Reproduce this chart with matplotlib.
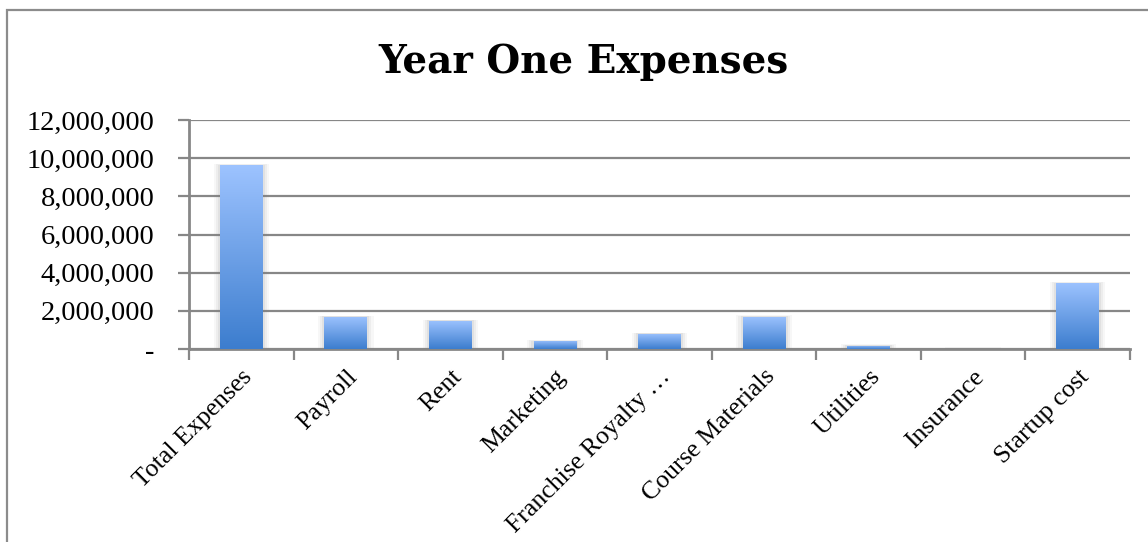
import numpy as np
import matplotlib
matplotlib.use("Agg")
import matplotlib.pyplot as plt
from matplotlib.patches import Rectangle
from matplotlib.ticker import FuncFormatter

categories = ["Total Expenses", "Payroll", "Rent", "Marketing", "Franchise Royalty …",
              "Course Materials", "Utilities", "Insurance", "Startup cost"]
values = [9630000, 1680000, 1470000, 420000, 790000, 1690000, 170000, 20000, 3460000]
yticks = [0, 2000000, 4000000, 6000000, 8000000, 10000000, 12000000]
title = "Year One Expenses"

W, H = 1148, 542
fig = plt.figure(figsize=(W / 100, H / 100), dpi=100)
fig.patch.set_facecolor("white")

# outer chart frame
frame = Rectangle((7 / W, -0.05), 1.1, (H - 10) / H + 0.05, transform=fig.transFigure,
                  fill=False, edgecolor="#8c8c8c", linewidth=1.6, clip_on=False)
fig.add_artist(frame)

ax = fig.add_axes([189 / W, 193 / H, (1130 - 189) / W, (349 - 120) / H])
ax.set_xlim(-0.5, len(categories) - 0.5)
ax.set_ylim(0, 12000000)

grid_color = "#878787"
ax.set_yticks(yticks)
ax.yaxis.grid(True, color=grid_color, linewidth=1.6)
ax.set_axisbelow(True)
for side in ["top", "right"]:
    ax.spines[side].set_visible(False)
for side in ["left", "bottom"]:
    ax.spines[side].set_color(grid_color)
    ax.spines[side].set_linewidth(2)

label_font = ["Liberation Serif", "DejaVu Serif"]
ax.yaxis.set_major_formatter(FuncFormatter(lambda v, p: "-" if v == 0 else f"{int(v):,}"))
ax.tick_params(axis="y", length=8, width=1.6, color=grid_color, pad=17,
               labelsize=20.5)
for lab in ax.get_yticklabels():
    lab.set_fontfamily(label_font)

x = np.arange(len(categories))
ax.set_xticks(x)
ax.set_xticklabels(categories, rotation=45, ha="right", va="top",
                   rotation_mode="anchor", fontsize=18.5, family=label_font)
ax.tick_params(axis="x", which="major", length=0, pad=12)
ax.set_xticks(np.arange(-0.5, len(categories)), minor=True)
ax.tick_params(axis="x", which="minor", length=8, width=1.6, color=grid_color)

# gradient image from light (top) to deep blue (bottom)
top = np.array([157, 195, 255]) / 255
bot = np.array([60, 125, 206]) / 255
t = np.linspace(0, 1, 256)[:, None]
grad = (bot * (1 - t) + top * t)[:, None, :].repeat(2, axis=1)

width = 0.41
bars = ax.bar(x, values, width=width, color="none", edgecolor="none", zorder=3)
for rect, v in zip(bars, values):
    x0 = rect.get_x()
    # soft shadow around each bar
    for k, a in [(0.06, 0.06), (0.04, 0.08), (0.02, 0.10)]:
        sh = Rectangle((x0 - k, 0), width + 2 * k, v + k * 1.2e6,
                       facecolor="#7f7f7f", edgecolor="none", alpha=a, zorder=2)
        ax.add_patch(sh)
    im = ax.imshow(grad, extent=[x0, x0 + width, 0, v], origin="lower",
                   aspect="auto", zorder=3, interpolation="bilinear")
    im.set_clip_path(rect)

ax.set_xlim(-0.5, len(categories) - 0.5)
ax.set_ylim(0, 12000000)

fig.text(583 / W, 1 - 62 / H, title, ha="center", va="center",
         fontsize=28, fontweight="bold", family="DejaVu Serif")

fig.savefig("out.png", dpi=100, facecolor="white")
